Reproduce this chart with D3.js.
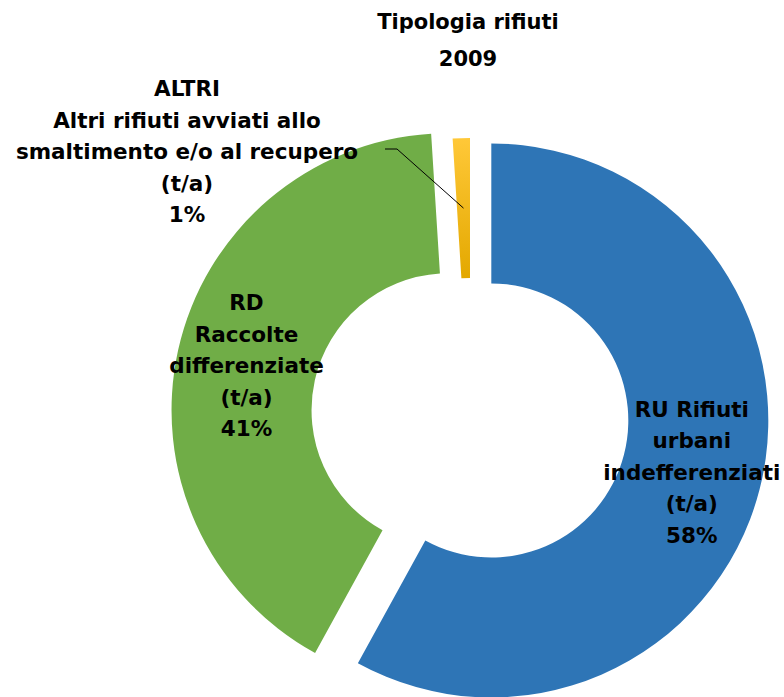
<!DOCTYPE html>
<html>
<head>
<meta charset="utf-8">
<script src="https://cdn.jsdelivr.net/npm/d3@7"></script>
<style>
  html, body { margin: 0; padding: 0; background: #fff; }
  text { font-family: "DejaVu Sans", sans-serif; font-weight: bold; fill: #000; }
</style>
</head>
<body>
<div id="grafico"></div>
<script>
// Dati
const categorie = ["RU", "RD", "ALTRI"];
const etichette = [
  ["RU Rifiuti", "urbani", "indefferenziati", "(t/a)", "58%"],
  ["RD", "Raccolte", "differenziate", "(t/a)", "41%"],
  ["ALTRI", "Altri rifiuti avviati allo", "smaltimento e/o al recupero", "(t/a)", "1%"]
];
const valori = [58, 41, 1];
const esplosione = [22, 22, 0];
const colori = ["#2E75B6", "#70AD47", "url(#gradGiallo)"];
const titolo = ["Tipologia rifiuti", "2009"];

document.addEventListener("DOMContentLoaded", () => {
  const width = 784;
  const height = 697;
  const cx = 470, cy = 415;
  const outerR = 277, innerR = 137;
  const passoRiga = 31.5;

  const svg = d3.select("#grafico")
    .append("svg")
    .attr("width", width)
    .attr("height", height);

  // Gradiente per la fetta gialla
  const grad = svg.append("defs").append("linearGradient")
    .attr("id", "gradGiallo")
    .attr("x1", 0).attr("y1", 0).attr("x2", 0).attr("y2", 1);
  grad.append("stop").attr("offset", "0%").attr("stop-color", "#FFC838");
  grad.append("stop").attr("offset", "100%").attr("stop-color", "#E3A800");

  const dati = categorie.map((c, i) => ({ cat: c, valore: valori[i], idx: i }));

  const pie = d3.pie().sort(null).value(d => d.valore);
  const arc = d3.arc().innerRadius(innerR).outerRadius(outerR);
  const archi = pie(dati);

  const g = svg.append("g").attr("transform", `translate(${cx},${cy})`);

  // Spostamento radiale delle fette
  const offset = d => {
    const a = (d.startAngle + d.endAngle) / 2;
    const e = esplosione[d.data.idx];
    return [Math.sin(a) * e, -Math.cos(a) * e];
  };

  g.selectAll("path.fetta")
    .data(archi)
    .enter()
    .append("path")
    .attr("class", "fetta")
    .attr("transform", d => `translate(${offset(d)})`)
    .attr("d", arc)
    .attr("fill", (d, i) => colori[i]);

  // Etichette dentro le fette (RU, RD)
  archi.slice(0, 2).forEach(d => {
    const [ox, oy] = offset(d);
    const [mx, my] = arc.centroid(d);
    const righe = etichette[d.data.idx];
    const t = g.append("text")
      .attr("text-anchor", "middle")
      .style("font-size", "21.5px");
    righe.forEach((r, k) => {
      t.append("tspan")
        .attr("x", mx + ox)
        .attr("y", my + oy + (k - (righe.length - 1) / 2) * passoRiga + 8)
        .text(r);
    });
  });

  // Etichetta ALTRI con linea guida
  const altri = archi[2];
  const [ax, ay] = arc.centroid(altri);
  const lx = 187 - cx, ly = 159 - cy;
  g.append("polyline")
    .attr("points", [[385 - cx, 149 - cy], [397 - cx, 149 - cy], [ax, ay]].map(p => p.join(",")).join(" "))
    .attr("fill", "none")
    .attr("stroke", "#000")
    .attr("stroke-width", 1);

  const ta = g.append("text")
    .attr("text-anchor", "middle")
    .style("font-size", "21.5px");
  etichette[2].forEach((r, k) => {
    ta.append("tspan")
      .attr("x", lx)
      .attr("y", ly + (k - 2) * passoRiga)
      .text(r);
  });

  // Titolo
  const tt = svg.append("text")
    .attr("text-anchor", "middle")
    .style("font-size", "21px");
  titolo.forEach((r, k) => {
    tt.append("tspan")
      .attr("x", 468)
      .attr("y", 29 + k * 37)
      .text(r);
  });
});
</script>
</body>
</html>
